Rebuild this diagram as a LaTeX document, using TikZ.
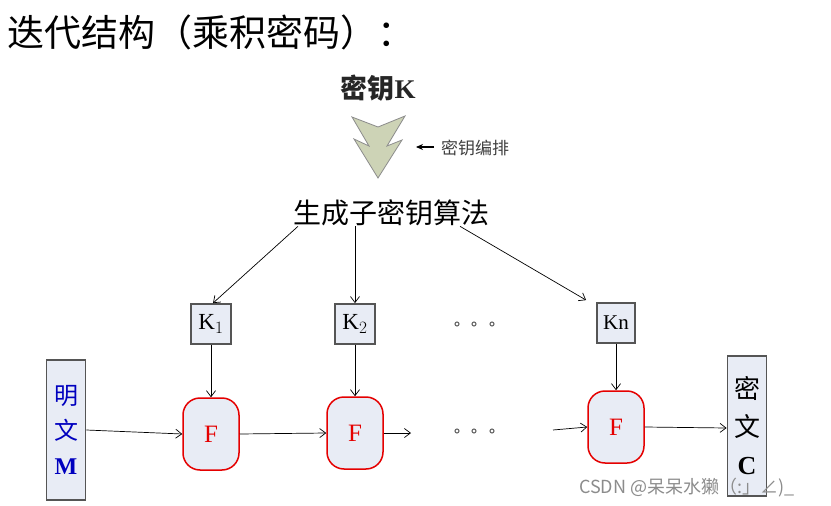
\documentclass[tikz,border=0pt]{standalone}
\usepackage{fontspec}
\setmainfont{Liberation Serif}
\newfontfamily\cjk{Noto Sans CJK SC}
\usetikzlibrary{arrows.meta}
\definecolor{boxfill}{HTML}{E8ECF5}
\definecolor{arrowfill}{HTML}{CDD3B6}
\definecolor{boxedge}{HTML}{555555}
\begin{document}
\begin{tikzpicture}[x=1pt,y=-1pt,
  kbox/.style={draw=boxedge, line width=1.8pt, fill=boxfill, minimum width=40pt, minimum height=40pt, inner sep=0pt, font=\fontsize{23}{25}\selectfont},
  fnode/.style={draw=red!90!black, line width=1.5pt, fill=boxfill, rounded corners=17pt, minimum width=56pt, minimum height=72pt, inner sep=0pt, text=red!90!black, font=\fontsize{25}{27}\selectfont},
  tallbox/.style={draw=boxedge, line width=1.8pt, fill=boxfill, minimum width=39pt, minimum height=140pt, inner sep=0pt, align=center},
  arr/.style={-{Straight Barb[length=6pt,width=9pt]}, line width=0.7pt},
  dot/.style={draw=black!60, line width=1.1pt}
]
\useasboundingbox (0,0) rectangle (831,506);
\fill[white] (0,0) rectangle (831,506);

% title
\node[anchor=west, inner sep=0pt, font=\cjk\fontsize{37}{40}\selectfont] (title) at (7,32) {迭代结构（乘积密码）：};

% key
\node[inner sep=0pt, text=black!85, font=\fontsize{27}{30}\selectfont] (key) at (378,88) {{\cjk\bfseries 密钥}\textbf{K}};

% big arrow shape
\draw[fill=arrowfill, draw=black!45, line width=0.8pt, line join=miter]
  (352,117) -- (378,127) -- (405,116) -- (387,146) -- (402,140) -- (378,178) -- (354,139) -- (369,146) -- cycle;

% key schedule label
\node[anchor=west, inner sep=0pt, text=black!75, font=\cjk\fontsize{17}{19}\selectfont] (ks) at (441,148) {密钥编排};
\coordinate (ksa) at (434,147);
\draw[-{Stealth[length=7pt,width=6pt]}, line width=1.1pt] (ksa) -- ++(-18,0);

% subkey generator
\node[inner sep=0pt, font=\cjk\fontsize{28}{30}\selectfont] (gen) at (391,213) {生成子密钥算法};

% subkeys
\node[kbox] (K1) at (211,324) {K$_1$};
\node[kbox] (K2) at (355,324) {K$_2$};
\node[kbox, minimum width=38pt, font=\fontsize{21}{23}\selectfont] (Kn) at (616,323) {Kn};

% F rounds
\node[fnode] (F1) at (211,434) {F};
\node[fnode] (F2) at (355,433) {F};
\node[fnode] (F3) at (616,427) {F};

% plaintext / ciphertext
\node[tallbox, text=blue!75!black, font=\fontsize{24}{35}\selectfont] (M) at (66,430) {{\cjk 明}\\{\cjk 文}\\\textbf{M}};
\node[tallbox, font=\fontsize{26}{38}\selectfont] (C) at (747,426) {{\cjk 密}\\{\cjk 文}\\\textbf{C}};

% dots
\foreach \x in {457,474,492} {
  \draw[dot] (\x,324) circle (2pt);
  \draw[dot] (\x,431) circle (2pt);
}

% connectors from generator
\draw[arr] ([xshift=-93pt]gen.south) -- ([xshift=2pt]K1.north);
\draw[arr] ([xshift=-36pt]gen.south) -- (K2.north);
\draw[arr] ([xshift=69pt]gen.south) -- ([xshift=-10pt,yshift=2pt]Kn.north west);

% subkeys to F
\draw[arr] (K1.south) -- (F1.north);
\draw[arr] (K2.south) -- (F2.north);
\draw[arr] (Kn.south) -- (F3.north);

% data path
\coordinate (d1) at (411,433);
\coordinate (d2) at (553,430);
\draw[arr] (M.east) -- (F1.west);
\draw[arr] (F1.east) -- (F2.west);
\draw[arr] (F2.east) -- (d1);
\draw[arr] (d2) -- (F3.west);
\draw[arr] (F3.east) -- ([yshift=-2pt]C.west);

% watermark
\node[anchor=west, inner sep=0pt, text=black!45, font=\cjk\fontsize{18}{20}\selectfont] (wm) at (579,488) {CSDN @呆呆水獭（:」∠)\_};
\end{tikzpicture}
\end{document}
